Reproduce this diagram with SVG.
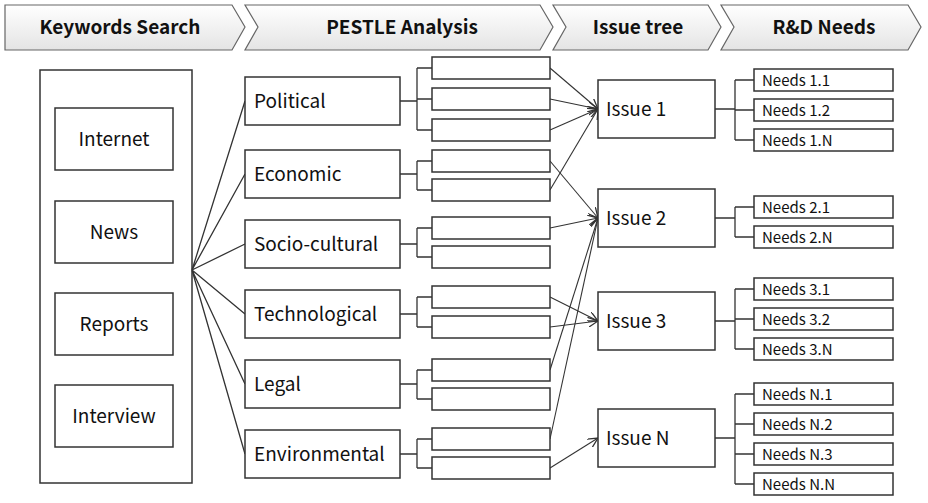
<svg xmlns="http://www.w3.org/2000/svg" width="928" height="503" viewBox="0 0 928 503">
<defs>
<linearGradient id="g" x1="0" y1="0" x2="0" y2="1"><stop offset="0" stop-color="#ffffff"/><stop offset="1" stop-color="#e4e4e4"/></linearGradient>
<marker id="a" viewBox="0 0 10 10" refX="10" refY="5" markerWidth="10" markerHeight="10" markerUnits="userSpaceOnUse" orient="auto"><path d="M0,0 L10,5 L0,10" fill="none" stroke="#333" stroke-width="1.3"/></marker>
</defs>
<style>
rect{fill:#fff;stroke:#333;stroke-width:1.5}
.h{fill:url(#g);stroke:#666;stroke-width:1.2}
text{font-family:"Malgun Gothic","Noto Sans CJK KR","Liberation Sans",sans-serif;fill:#111}
.ht{font-size:19px;font-weight:bold;text-anchor:middle}
.t{font-size:19px}
.n{font-size:15px}
.c{text-anchor:middle}
#conn path,#conn line{fill:none;stroke:#333;stroke-width:1.3}
#conn .ar{marker-end:url(#a);stroke-width:1.1}
</style>
<g id="headers">
<path class="h" d="M5,5 H232 L245,27 L232,50 H5 Z"/><text class="ht" x="120" y="34">Keywords  Search</text>
<path class="h" d="M245,5 H540 L553,27 L540,50 H245 L258,27 Z"/><text class="ht" x="402" y="34">PESTLE Analysis</text>
<path class="h" d="M553,5 H708 L721,27 L708,50 H553 L566,27 Z"/><text class="ht" x="638" y="34">Issue tree</text>
<path class="h" d="M721,5 H908 L921,27 L908,50 H721 L734,27 Z"/><text class="ht" x="824" y="34">R&amp;D Needs</text>
</g>
<g id="keywords">
<rect x="40" y="70" width="152" height="413"/>
<rect x="55" y="108" width="118" height="62"/><text class="t c" x="114" y="146">Internet</text>
<rect x="55" y="201" width="118" height="62"/><text class="t c" x="114" y="239">News</text>
<rect x="55" y="293" width="118" height="62"/><text class="t c" x="114" y="331">Reports</text>
<rect x="55" y="385" width="118" height="62"/><text class="t c" x="114" y="423">Interview</text>
</g>
<g id="conn">
<path d="M192,270 L245,101 M192,270 L245,174 M192,270 L245,244 M192,270 L245,314 M192,270 L245,384 M192,270 L245,454"/>
<path d="M400,101 H417 M417,68 V130 M417,68 H432 M417,99 H432 M417,130 H432"/>
<path d="M400,174 H417 M417,161 V190 M417,161 H432 M417,190 H432"/>
<path d="M400,244 H417 M417,228 V257 M417,228 H432 M417,257 H432"/>
<path d="M400,314 H417 M417,297 V327 M417,297 H432 M417,327 H432"/>
<path d="M400,384 H417 M417,370 V399 M417,370 H432 M417,399 H432"/>
<path d="M400,454 H417 M417,439 V468 M417,439 H432 M417,468 H432"/>
<line class="ar" x1="550" y1="68" x2="598" y2="109"/>
<line class="ar" x1="550" y1="99" x2="598" y2="109"/>
<line class="ar" x1="550" y1="130" x2="598" y2="109"/>
<line class="ar" x1="550" y1="190" x2="598" y2="109"/>
<line class="ar" x1="550" y1="161" x2="598" y2="218"/>
<line class="ar" x1="550" y1="228" x2="598" y2="218"/>
<line class="ar" x1="550" y1="370" x2="598" y2="218"/>
<line class="ar" x1="550" y1="439" x2="598" y2="218"/>
<line class="ar" x1="550" y1="297" x2="598" y2="321"/>
<line class="ar" x1="550" y1="327" x2="598" y2="321"/>
<line class="ar" x1="550" y1="468" x2="598" y2="438"/>
<path d="M715,109 H735 M735,80 V140 M735,80 H754 M735,110 H754 M735,140 H754"/>
<path d="M715,218 H735 M735,207 V237 M735,207 H754 M735,237 H754"/>
<path d="M715,321 H735 M735,289 V349 M735,289 H754 M735,319 H754 M735,349 H754"/>
<path d="M715,438 H735 M735,394 V484 M735,394 H754 M735,424 H754 M735,454 H754 M735,484 H754"/>
</g>
<g id="pestle">
<g id="political"><rect x="245" y="77" width="155" height="48"/><text class="t" x="254" y="108">Political</text></g>
<g id="economic"><rect x="245" y="150" width="155" height="48"/><text class="t" x="254" y="181">Economic</text></g>
<g id="socio"><rect x="245" y="220" width="155" height="48"/><text class="t" x="254" y="251">Socio-cultural</text></g>
<g id="tech"><rect x="245" y="290" width="155" height="48"/><text class="t" x="254" y="321">Technological</text></g>
<g id="legal"><rect x="245" y="360" width="155" height="48"/><text class="t" x="254" y="391">Legal</text></g>
<g id="env"><rect x="245" y="430" width="155" height="48"/><text class="t" x="254" y="461">Environmental</text></g>
</g>
<g id="subs">
<rect x="432" y="57" width="118" height="22"/><rect x="432" y="88" width="118" height="22"/><rect x="432" y="119" width="118" height="22"/>
<rect x="432" y="150" width="118" height="22"/><rect x="432" y="179" width="118" height="22"/>
<rect x="432" y="217" width="118" height="22"/><rect x="432" y="246" width="118" height="22"/>
<rect x="432" y="286" width="118" height="22"/><rect x="432" y="316" width="118" height="22"/>
<rect x="432" y="359" width="118" height="22"/><rect x="432" y="388" width="118" height="22"/>
<rect x="432" y="428" width="118" height="22"/><rect x="432" y="457" width="118" height="22"/>
</g>
<g id="issues">
<g id="i1"><rect x="598" y="80" width="117" height="58"/><text class="t" x="606" y="116">Issue 1</text></g>
<g id="i2"><rect x="598" y="189" width="117" height="58"/><text class="t" x="606" y="225">Issue 2</text></g>
<g id="i3"><rect x="598" y="292" width="117" height="58"/><text class="t" x="606" y="328">Issue 3</text></g>
<g id="iN"><rect x="598" y="409" width="117" height="58"/><text class="t" x="606" y="445">Issue N</text></g>
</g>
<g id="needs">
<rect x="754" y="69" width="139" height="22"/><text class="n" x="762" y="86">Needs 1.1</text>
<rect x="754" y="99" width="139" height="22"/><text class="n" x="762" y="116">Needs 1.2</text>
<rect x="754" y="129" width="139" height="22"/><text class="n" x="762" y="146">Needs 1.N</text>
<rect x="754" y="196" width="139" height="22"/><text class="n" x="762" y="213">Needs 2.1</text>
<rect x="754" y="226" width="139" height="22"/><text class="n" x="762" y="243">Needs 2.N</text>
<rect x="754" y="278" width="139" height="22"/><text class="n" x="762" y="295">Needs 3.1</text>
<rect x="754" y="308" width="139" height="22"/><text class="n" x="762" y="325">Needs 3.2</text>
<rect x="754" y="338" width="139" height="22"/><text class="n" x="762" y="355">Needs 3.N</text>
<rect x="754" y="383" width="139" height="22"/><text class="n" x="762" y="400">Needs N.1</text>
<rect x="754" y="413" width="139" height="22"/><text class="n" x="762" y="430">Needs N.2</text>
<rect x="754" y="443" width="139" height="22"/><text class="n" x="762" y="460">Needs N.3</text>
<rect x="754" y="473" width="139" height="22"/><text class="n" x="762" y="490">Needs N.N</text>
</g>
</svg>
